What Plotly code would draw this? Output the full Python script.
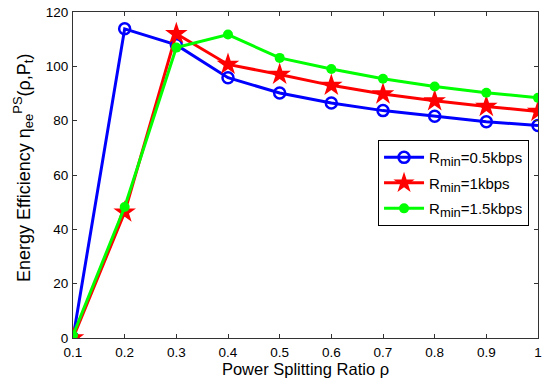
import plotly.graph_objects as go

rho = [0.1, 0.2, 0.3, 0.4, 0.5, 0.6, 0.7, 0.8, 0.9, 1.0]
ee_05 = [0, 113.8, 107.9, 95.8, 90.2, 86.5, 83.7, 81.6, 79.6, 78.2]
ee_1 = [0, 46.3, 112, 100.7, 97, 93, 89.8, 87.3, 85.2, 83.4]
ee_15 = [1, 48.2, 106.9, 111.7, 103.1, 99, 95.4, 92.6, 90.3, 88.4]
xticks = [0.1, 0.2, 0.3, 0.4, 0.5, 0.6, 0.7, 0.8, 0.9, 1]
yticks = [0, 20, 40, 60, 80, 100, 120]

SUB = '<sub><span style="font-size:13px">{}</span></sub>'
SUP = '<sup><span style="font-size:13px">{}</span></sup>'

fig = go.Figure()
fig.add_trace(go.Scatter(
    x=rho, y=ee_05, mode="lines+markers", name="R" + SUB.format("min") + "=0.5kbps",
    legendgroup="a",
    line=dict(color="#0000ff", width=3),
    marker=dict(symbol="circle-open", size=11, color="#0000ff", line=dict(width=2.5))))
fig.add_trace(go.Scatter(
    x=rho, y=ee_1, mode="lines+markers", name="R" + SUB.format("min") + "=1kbps",
    legendgroup="b",
    line=dict(color="#ff0000", width=3),
    marker=dict(symbol="star", size=17, color="#ff0000")))
fig.add_trace(go.Scatter(
    x=rho, y=ee_15, mode="lines+markers", name="R" + SUB.format("min") + "=1.5kbps",
    legendgroup="c",
    line=dict(color="#00ff00", width=3),
    marker=dict(symbol="circle", size=10, color="#00ff00")))

axis_common = dict(showline=True, linecolor="#333333", linewidth=1, mirror="ticks",
                   ticks="inside", ticklen=4, tickcolor="#333333", showgrid=False,
                   zeroline=False, tickfont=dict(size=13.5, color="black"),
                   automargin=False, ticklabeloverflow="allow")

ytitle = ("Energy Efficiency η" + SUB.format("ee") + SUP.format("PS") +
          "(ρ,P" + SUB.format("t") + ")")

fig.update_layout(
    width=550, height=384,
    margin=dict(l=73, r=12, t=12, b=46),
    paper_bgcolor="white", plot_bgcolor="white",
    font=dict(family="Liberation Sans, Arial, sans-serif", color="black"),
    xaxis=dict(range=[0.1, 1], tickvals=xticks, ticktext=[str(t) for t in xticks],
               title=dict(text="Power Splitting Ratio ρ", font=dict(size=16.5), standoff=1),
               ticklabelstandoff=2,
               **axis_common),
    yaxis=dict(range=[0, 120], tickvals=yticks, ticklabelstandoff=1,
               **axis_common),
    annotations=[dict(text=ytitle, textangle=-90, xref="paper", yref="paper",
                      x=-0.1075, y=0.5215, xanchor="center", yanchor="middle",
                      showarrow=False, font=dict(size=18, color="black"))],
    legend=dict(x=0.656, y=0.607, xanchor="left", yanchor="top",
                bgcolor="white", bordercolor="black", borderwidth=1,
                font=dict(size=15), itemwidth=40, tracegroupgap=3),
    showlegend=True,
)

fig.write_html("out.html", config={"displayModeBar": False},
               post_script="document.body.style.margin='0';")
